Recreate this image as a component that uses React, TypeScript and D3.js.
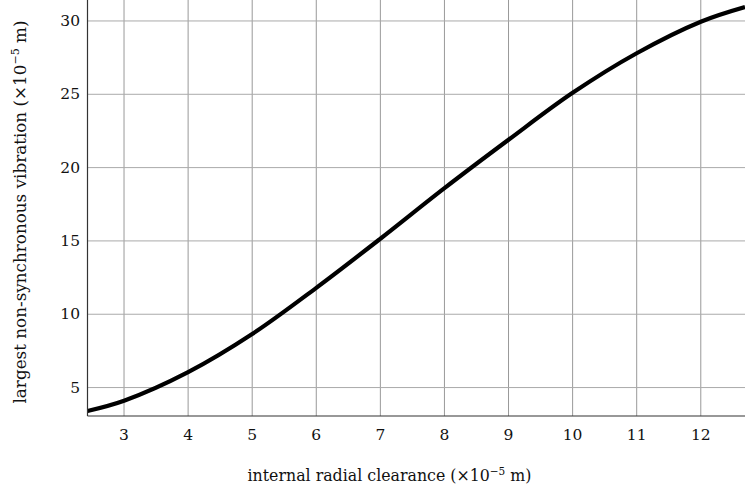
import React from "react";
import * as d3 from "d3";

// Internal radial clearance (×10⁻⁵ m) vs largest non-synchronous vibration (×10⁻⁵ m)
const clearance = [2.43, 3, 4, 5, 6, 7, 8, 9, 10, 11, 12, 12.69];
const vibration = [3.4, 4.1, 6.05, 8.65, 11.8, 15.15, 18.6, 21.9, 25.1, 27.8, 29.95, 30.95];
const xTicks = [3, 4, 5, 6, 7, 8, 9, 10, 11, 12];
const yTicks = [5, 10, 15, 20, 25, 30];

const W = 745;
const H = 492;
const FONT = "'DejaVu Serif', serif";

export default function App() {
  const left = 87.5;
  const right = 745;
  const top = 0;
  const bottom = 416;

  const x = d3.scaleLinear().domain([2.43, 12.69]).range([left, right]);
  const y = d3.scaleLinear().domain([3.06, 31.43]).range([bottom, top]);

  const points: [number, number][] = clearance.map((c, i) => [c, vibration[i]]);
  const line = d3
    .line<[number, number]>()
    .x((d) => x(d[0]))
    .y((d) => y(d[1]))
    .curve(d3.curveCatmullRom.alpha(0.5));

  return (
    <svg
      width={W}
      height={H}
      style={{ position: "absolute", left: 0, top: 0, background: "#fff" }}
    >
      <defs>
        <clipPath id="plot">
          <rect x={left} y={top} width={right - left} height={bottom - top} />
        </clipPath>
      </defs>
      <g>
        {xTicks.map((t) => (
          <line
            key={"gx" + t}
            x1={x(t)}
            x2={x(t)}
            y1={top}
            y2={bottom}
            stroke="#999"
            strokeWidth={1}
          />
        ))}
        {yTicks.map((t) => (
          <line
            key={"gy" + t}
            x1={left}
            x2={right}
            y1={y(t)}
            y2={y(t)}
            stroke="#aaa"
            strokeWidth={1}
          />
        ))}
      </g>
      <path
        d={line(points) ?? ""}
        fill="none"
        stroke="#000"
        strokeWidth={4.2}
        clipPath="url(#plot)"
      />
      <line x1={left} x2={left} y1={top} y2={bottom} stroke="#333" strokeWidth={1.2} />
      <line x1={left} x2={right} y1={bottom} y2={bottom} stroke="#333" strokeWidth={1.2} />
      <g fontFamily={FONT} fontSize={15.5} fill="#111">
        {xTicks.map((t) => (
          <text key={"tx" + t} x={x(t)} y={440} textAnchor="middle">
            {t}
          </text>
        ))}
        {yTicks.map((t) => (
          <text key={"ty" + t} x={80} y={y(t)} textAnchor="end" dominantBaseline="central">
            {t}
          </text>
        ))}
      </g>
      <text
        x={389.5}
        y={481}
        textAnchor="middle"
        fontFamily={FONT}
        fontSize={15.8}
        fill="#111"
      >
        internal radial clearance (×10
        <tspan dy={-6.5} fontSize={10.5}>−5</tspan>
        <tspan dy={6.5}> m)</tspan>
      </text>
      <text
        transform={`translate(26, ${(top + bottom) / 2 + 4}) rotate(-90)`}
        textAnchor="middle"
        fontFamily={FONT}
        fontSize={16.8}
        fill="#111"
      >
        largest non-synchronous vibration (×10
        <tspan dy={-7} fontSize={11}>−5</tspan>
        <tspan dy={7}> m)</tspan>
      </text>
    </svg>
  );
}
